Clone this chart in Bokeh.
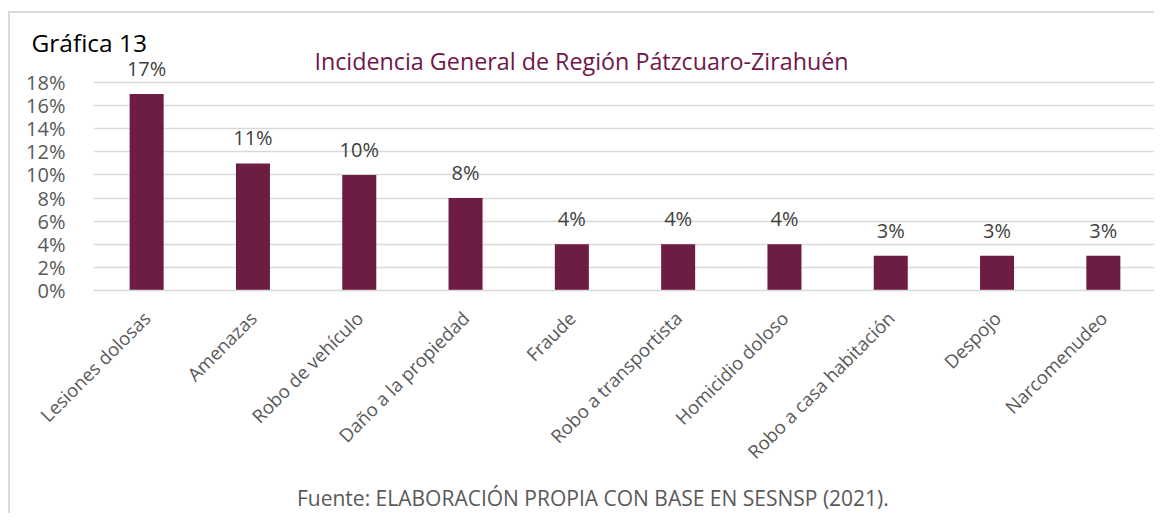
from bokeh.plotting import figure
from bokeh.models import ColumnDataSource, LabelSet, Label, NumeralTickFormatter, FixedTicker
from bokeh.embed import file_html
from bokeh.resources import INLINE
from bokeh.core.properties import value

categories = ["Lesiones dolosas", "Amenazas", "Robo de vehículo", "Daño a la propiedad",
              "Fraude", "Robo a transportista", "Homicidio doloso",
              "Robo a casa habitación", "Despojo", "Narcomenudeo"]
values = [0.17, 0.11, 0.10, 0.08, 0.04, 0.04, 0.04, 0.03, 0.03, 0.03]
labels = ["17%", "11%", "10%", "8%", "4%", "4%", "4%", "3%", "3%", "3%"]
y_ticks = [0, 0.02, 0.04, 0.06, 0.08, 0.10, 0.12, 0.14, 0.16, 0.18]

FONT = "Open Sans"
BAR = "#6d1c44"
GRID = "#d9d9d9"

W, H = 1146, 502
FRAME_L, FRAME_T, FRAME_B = 83, 36, 277   # canvas px
GRID_TOP = 69                             # canvas px of the 18% line
y_max = 0.18
px_per_unit = (FRAME_B - GRID_TOP) / y_max
y_end = (FRAME_B - FRAME_T) / px_per_unit

src = ColumnDataSource(dict(cat=categories, val=values, lab=labels))

p = figure(x_range=categories, y_range=(0, y_end), width=W, height=H,
           output_backend="svg", toolbar_location=None,
           min_border_left=FRAME_L, min_border_right=0, min_border_top=FRAME_T,
           min_border_bottom=H - FRAME_B)
p.styles = {"border-top": "2px solid #d9d9d9", "border-left": "2px solid #d9d9d9",
            "margin-top": "11px", "margin-left": "8px"}
p.outline_line_color = None
p.background_fill_color = "white"
p.border_fill_color = "white"

p.vbar(x="cat", top="val", width=0.32, source=src, fill_color=BAR, line_color=None)

p.yaxis.ticker = FixedTicker(ticks=y_ticks)
p.yaxis.formatter = NumeralTickFormatter(format="0%")
p.yaxis.axis_line_color = None
p.yaxis.major_tick_line_color = None
p.yaxis.minor_tick_line_color = None
p.yaxis.major_label_text_font = FONT
p.yaxis.major_label_text_font_size = "20px"
p.yaxis.major_label_text_color = "#595959"
p.yaxis.major_label_standoff = 22

p.xaxis.axis_line_color = GRID
p.xaxis.axis_line_width = 1.5
p.xaxis.major_tick_line_color = None
p.xaxis.minor_tick_line_color = None
p.xaxis.major_label_orientation = 0.785398
p.xaxis.major_label_text_font = FONT
p.xaxis.major_label_text_font_size = "18.5px"
p.xaxis.major_label_text_color = "#595959"
p.xaxis.major_label_standoff = 18

p.xgrid.grid_line_color = None
p.ygrid.grid_line_color = GRID
p.ygrid.grid_line_width = 1.5

p.x_range.range_padding = 0
p.x_range.factor_padding = 0

ls = LabelSet(x="cat", y="val", text="lab", source=src, y_offset=18,
              text_align="center", text_baseline="alphabetic",
              text_font=value(FONT), text_font_size="20px", text_color="#404040")
p.add_layout(ls)

# Title (inside the frame)
band = (W - FRAME_L) / len(categories)
p.add_layout(Label(x=(571 - FRAME_L) / band, y=(FRAME_B - 47.4) / px_per_unit,
                   text="Incidencia General de Región Pátzcuaro-Zirahuén",
                   text_font=FONT, text_font_size="23.3px", text_color="#70174a",
                   text_align="center", text_baseline="middle"))
# Gráfica 13 (canvas units, in the top side panel so it is not clipped)
p.add_layout(Label(x=19, y=27, x_units="canvas", y_units="canvas", text="Gráfica 13",
                   text_font=FONT, text_font_size="24.5px", text_color="#000000",
                   text_align="left", text_baseline="middle"), "above")
# Footer (canvas units, in the bottom side panel)
p.add_layout(Label(x=580.4, y=482, x_units="canvas", y_units="canvas",
                   text="Fuente: ELABORACIÓN PROPIA CON BASE EN SESNSP (2021).",
                   text_font=FONT, text_font_size="21px", text_color="#595959",
                   text_align="center", text_baseline="middle"), "below")

open("out.html", "w").write(file_html(p, INLINE))
